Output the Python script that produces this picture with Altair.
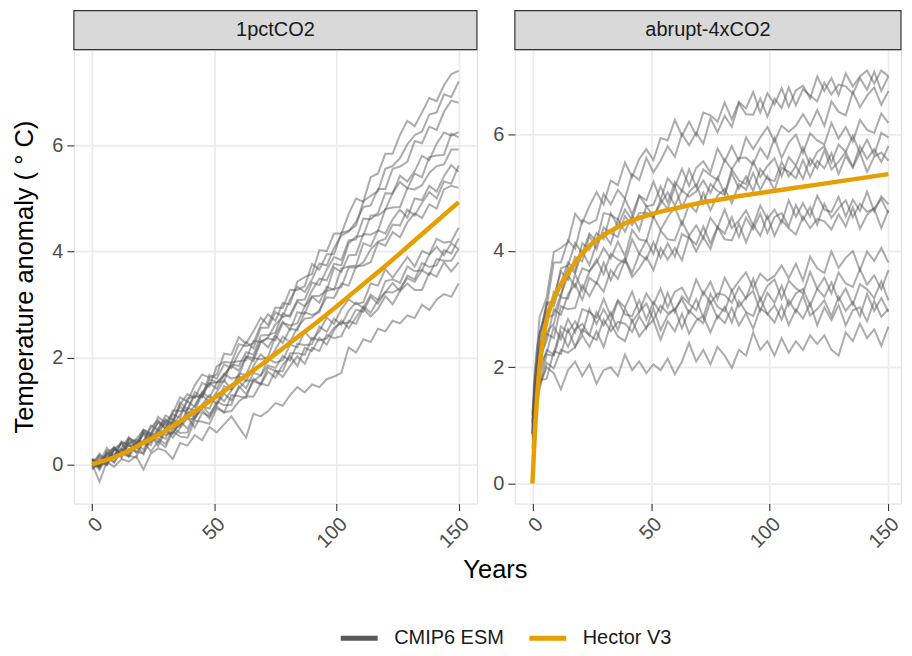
import altair as alt
import pandas as pd

FONT = "Liberation Sans"

# ---------------- data ----------------
years_1pct = list(range(0, 151, 3))               # 51 years
years_4x = [0, 1, 2] + list(range(3, 151, 3))     # 53 years

# 1pctCO2 : CMIP6 ESM temperature anomaly series
l01 = [0.0, 0.17, 0.09, 0.30, 0.19, 0.48, 0.43, 0.42, 0.73, 0.64, 0.92, 0.83, 1.13, 1.32, 1.25, 1.53, 1.46, 1.84, 1.93, 1.91, 2.26, 2.22, 2.28, 2.62, 2.82, 2.70, 3.03, 3.01, 3.44, 3.52, 3.58, 4.03, 4.01, 4.34, 4.34, 4.71, 5.00, 4.94, 5.40, 5.47, 5.84, 5.84, 6.20, 6.46, 6.36, 6.62, 6.89, 6.83, 7.13, 7.34, 7.40]
l02 = [0.08, -0.07, 0.21, 0.13, 0.43, 0.34, 0.37, 0.65, 0.57, 0.89, 0.78, 0.96, 1.26, 1.18, 1.49, 1.69, 1.63, 1.69, 2.08, 2.06, 2.39, 2.27, 2.50, 2.76, 2.62, 2.95, 2.94, 3.28, 3.28, 3.35, 3.77, 3.66, 3.95, 3.95, 4.36, 4.39, 4.49, 4.95, 5.05, 5.14, 5.56, 5.61, 5.76, 6.02, 6.19, 6.26, 6.58, 6.62, 6.96, 6.91, 7.20]
l03 = [0.05, -0.07, 0.25, 0.28, 0.20, 0.50, 0.41, 0.41, 0.69, 0.83, 0.66, 0.94, 0.87, 1.24, 1.27, 1.28, 1.68, 1.61, 1.88, 1.81, 2.09, 2.30, 2.18, 2.57, 2.57, 2.86, 2.78, 3.10, 3.34, 3.24, 3.48, 3.78, 3.74, 4.07, 4.30, 4.38, 4.56, 4.84, 4.87, 5.18, 5.18, 5.56, 5.60, 5.69, 6.08, 6.04, 6.35, 6.29, 6.63, 6.84, 6.80]
l04 = [0.10, 0.03, 0.31, 0.13, 0.31, 0.51, 0.32, 0.60, 0.52, 0.80, 0.73, 0.78, 1.16, 1.03, 1.29, 1.26, 1.60, 1.54, 1.56, 1.92, 1.94, 1.96, 2.32, 2.30, 2.39, 2.63, 2.77, 2.81, 3.09, 3.10, 3.42, 3.37, 3.66, 3.90, 3.84, 4.21, 4.23, 4.62, 4.61, 4.73, 5.10, 5.09, 5.43, 5.32, 5.51, 5.80, 5.72, 6.03, 6.24, 6.18, 6.25]
l05 = [0.10, -0.03, 0.19, 0.33, 0.13, 0.45, 0.37, 0.59, 0.44, 0.68, 0.85, 0.72, 0.94, 1.18, 1.08, 1.35, 1.52, 1.54, 1.66, 1.88, 1.85, 2.11, 2.06, 2.42, 2.43, 2.48, 2.84, 2.77, 3.06, 2.97, 3.27, 3.49, 3.46, 3.77, 3.74, 4.16, 4.28, 4.30, 4.68, 4.68, 4.78, 5.11, 5.31, 5.19, 5.47, 5.40, 5.78, 5.81, 5.82, 6.22, 6.15]
l06 = [0.10, -0.05, 0.14, 0.30, 0.14, 0.41, 0.33, 0.62, 0.53, 0.55, 0.82, 0.78, 1.09, 0.94, 1.10, 1.36, 1.25, 1.53, 1.70, 1.61, 1.65, 2.03, 2.00, 2.33, 2.20, 2.43, 2.68, 2.53, 2.86, 2.83, 3.16, 3.17, 3.27, 3.70, 3.62, 3.93, 3.94, 4.33, 4.32, 4.39, 4.80, 4.83, 4.84, 5.19, 5.17, 5.25, 5.48, 5.61, 5.64, 5.92, 5.92]
l07 = [0.00, 0.20, 0.06, 0.28, 0.41, 0.39, 0.47, 0.65, 0.57, 0.78, 0.68, 1.01, 1.00, 1.02, 1.36, 1.27, 1.53, 1.42, 1.69, 1.85, 1.76, 2.02, 1.94, 2.30, 2.37, 2.33, 2.66, 2.61, 2.65, 2.97, 3.15, 3.04, 3.34, 3.28, 3.68, 3.72, 3.74, 4.16, 4.10, 4.40, 4.34, 4.61, 4.79, 4.64, 5.00, 4.97, 5.24, 5.13, 5.42, 5.63, 5.50]
l08 = [-0.05, -0.03, 0.23, 0.15, 0.41, 0.23, 0.35, 0.56, 0.41, 0.64, 0.78, 0.68, 0.71, 1.06, 1.01, 1.31, 1.16, 1.36, 1.58, 1.41, 1.71, 1.68, 2.00, 1.97, 2.02, 2.41, 2.28, 2.55, 2.52, 2.86, 2.81, 2.86, 3.26, 3.30, 3.33, 3.70, 3.70, 3.80, 4.04, 4.19, 4.24, 4.51, 4.49, 4.79, 4.68, 4.92, 5.12, 5.00, 5.32, 5.28, 5.62]
l09 = [0.08, 0.01, 0.00, 0.26, 0.39, 0.20, 0.41, 0.27, 0.58, 0.54, 0.48, 0.85, 0.74, 0.99, 0.88, 1.13, 1.30, 1.12, 1.47, 1.41, 1.66, 1.56, 1.85, 2.07, 1.94, 2.16, 2.40, 2.30, 2.57, 2.74, 2.76, 2.90, 3.14, 3.13, 3.40, 3.36, 3.72, 3.74, 3.80, 4.17, 4.11, 4.37, 4.27, 4.55, 4.72, 4.63, 4.89, 4.81, 5.17, 5.24, 5.20]
l10 = [-0.10, 0.11, 0.02, 0.30, 0.19, 0.15, 0.46, 0.42, 0.36, 0.64, 0.55, 0.59, 0.78, 0.86, 0.85, 1.09, 1.05, 1.32, 1.18, 1.39, 1.56, 1.43, 1.72, 1.67, 1.98, 1.91, 1.96, 2.25, 2.20, 2.49, 2.34, 2.50, 2.76, 2.64, 2.92, 3.10, 3.01, 3.05, 3.40, 3.36, 3.67, 3.51, 3.70, 3.90, 3.72, 4.01, 3.95, 4.24, 4.17, 4.19, 4.45]
l11 = [0.05, 0.05, -0.01, 0.31, 0.17, 0.37, 0.22, 0.43, 0.55, 0.34, 0.64, 0.57, 0.81, 0.67, 0.93, 1.11, 0.94, 1.13, 1.33, 1.20, 1.43, 1.58, 1.57, 1.67, 1.86, 1.81, 2.04, 1.95, 2.27, 2.24, 2.26, 2.59, 2.49, 2.74, 2.62, 2.89, 3.04, 2.94, 3.19, 3.09, 3.44, 3.48, 3.41, 3.72, 3.63, 3.65, 3.94, 4.09, 3.93, 4.16, 4.05]
l12 = [-0.08, 0.00, 0.20, 0.04, 0.26, 0.38, 0.23, 0.21, 0.52, 0.42, 0.67, 0.50, 0.68, 0.88, 0.69, 0.97, 0.90, 1.18, 1.11, 1.12, 1.47, 1.32, 1.56, 1.51, 1.82, 1.75, 1.75, 2.09, 2.09, 2.06, 2.38, 2.33, 2.37, 2.57, 2.66, 2.66, 2.91, 2.87, 3.15, 3.02, 3.24, 3.41, 3.26, 3.55, 3.48, 3.79, 3.71, 3.74, 4.03, 3.96, 4.25]
l13 = [-0.05, 0.15, -0.02, 0.19, 0.29, 0.14, 0.34, 0.19, 0.48, 0.48, 0.38, 0.68, 0.59, 0.60, 0.88, 1.03, 0.86, 1.09, 0.97, 1.30, 1.28, 1.25, 1.61, 1.50, 1.74, 1.63, 1.87, 2.03, 1.85, 2.19, 2.13, 2.38, 2.25, 2.52, 2.71, 2.56, 2.76, 2.97, 2.85, 3.09, 3.24, 3.23, 3.31, 3.50, 3.43, 3.65, 3.56, 3.86, 3.83, 3.83, 4.05]
l14 = [0.08, -0.11, 0.13, 0.03, 0.27, 0.16, 0.13, 0.44, 0.24, 0.43, 0.32, 0.62, 0.52, 0.50, 0.82, 0.80, 0.76, 1.05, 0.98, 1.00, 1.18, 1.28, 1.27, 1.52, 1.48, 1.76, 1.64, 1.85, 2.03, 1.89, 2.19, 2.13, 2.44, 2.37, 2.41, 2.70, 2.64, 2.93, 2.78, 2.92, 3.16, 3.01, 3.26, 3.40, 3.28, 3.28, 3.60, 3.53, 3.80, 3.63, 3.80]
l15 = [0.0, -0.33, 0.05, -0.05, 0.10, 0.05, 0.15, -0.10, 0.20, 0.30, 0.25, 0.10, 0.40, 0.35, 0.55, 0.45, 0.70, 0.60, 0.75, 0.90, 0.70, 0.50, 0.95, 0.90, 1.00, 1.15, 1.10, 1.30, 1.45, 1.35, 1.50, 1.45, 1.60, 1.65, 1.72, 2.20, 2.10, 2.35, 2.30, 2.55, 2.50, 2.70, 2.65, 2.80, 2.75, 3.00, 2.90, 3.10, 3.20, 3.15, 3.40]

# abrupt-4xCO2 : CMIP6 ESM temperature anomaly series
r01 = [1.20, 1.97, 2.35, 2.86, 3.20, 3.98, 4.05, 4.15, 4.64, 4.48, 4.77, 5.01, 4.80, 5.21, 5.13, 5.52, 5.27, 5.58, 5.75, 5.56, 5.94, 5.90, 6.25, 5.98, 6.22, 5.99, 6.38, 6.33, 6.22, 6.55, 6.26, 6.56, 6.45, 6.73, 6.38, 6.71, 6.52, 6.80, 6.48, 6.76, 6.84, 6.62, 7.00, 6.75, 6.97, 6.68, 7.05, 6.83, 7.00, 7.10, 6.88, 7.10, 7.00]
r02 = [1.17, 1.70, 2.35, 2.57, 3.05, 3.80, 3.80, 4.18, 4.04, 4.53, 4.47, 4.54, 4.98, 4.80, 5.05, 4.90, 5.32, 5.22, 5.60, 5.35, 5.55, 5.80, 5.62, 6.01, 5.82, 6.03, 5.84, 6.28, 6.04, 6.32, 6.13, 6.54, 6.35, 6.34, 6.62, 6.31, 6.62, 6.46, 6.81, 6.50, 6.78, 6.67, 6.57, 6.89, 6.69, 6.86, 6.83, 6.70, 6.97, 6.77, 7.08, 6.75, 7.00]
r03 = [0.96, 1.80, 2.13, 2.53, 3.12, 3.12, 3.70, 3.75, 4.14, 3.96, 4.30, 4.16, 4.65, 4.62, 4.54, 4.89, 4.63, 4.95, 4.87, 5.19, 4.88, 5.25, 5.10, 5.41, 5.12, 5.43, 5.54, 5.35, 5.76, 5.54, 5.80, 5.54, 5.95, 5.75, 5.95, 6.13, 5.88, 6.15, 6.05, 6.15, 6.35, 6.15, 6.42, 6.15, 6.57, 6.39, 6.33, 6.73, 6.47, 6.67, 6.81, 6.51, 6.75]
r04 = [1.02, 1.50, 2.16, 2.36, 3.10, 3.05, 3.45, 3.80, 3.66, 4.13, 4.02, 4.31, 4.20, 4.65, 4.42, 4.71, 4.53, 4.95, 4.77, 4.79, 5.11, 4.83, 5.18, 5.03, 5.40, 5.10, 5.40, 5.30, 5.22, 5.57, 5.40, 5.60, 5.60, 5.49, 5.77, 5.59, 5.94, 5.60, 5.86, 6.00, 5.68, 6.02, 5.90, 5.83, 6.20, 5.93, 6.13, 5.88, 6.25, 6.08, 6.03, 6.36, 6.20]
r05 = [0.85, 1.69, 1.93, 2.35, 2.75, 3.30, 3.22, 3.72, 3.62, 3.99, 3.76, 4.13, 4.30, 4.12, 4.54, 4.33, 4.60, 4.35, 4.77, 4.59, 4.81, 5.01, 4.78, 5.04, 4.93, 5.02, 5.21, 5.00, 5.26, 4.98, 5.40, 5.21, 5.15, 5.54, 5.27, 5.46, 5.59, 5.28, 5.61, 5.47, 5.78, 5.47, 5.70, 5.80, 5.52, 5.83, 5.70, 5.98, 5.68, 5.91, 5.65, 6.03, 5.95]
r06 = [1.04, 1.75, 2.13, 2.60, 2.95, 3.20, 3.65, 3.50, 3.90, 3.82, 4.26, 4.03, 4.40, 4.31, 4.24, 4.60, 4.44, 4.65, 4.66, 4.57, 4.88, 4.72, 5.10, 4.75, 5.01, 5.14, 4.82, 5.15, 5.03, 4.96, 5.34, 5.07, 5.28, 5.03, 5.41, 5.24, 5.20, 5.53, 5.28, 5.46, 5.24, 5.59, 5.42, 5.73, 5.40, 5.53, 5.70, 5.45, 5.80, 5.58, 5.75, 5.53, 5.80]
r07 = [1.10, 1.56, 2.06, 2.20, 2.85, 2.90, 3.25, 3.58, 3.38, 3.70, 3.65, 3.80, 4.05, 3.87, 4.16, 3.91, 4.36, 4.20, 4.17, 4.59, 4.36, 4.58, 4.75, 4.45, 4.80, 4.67, 5.00, 4.70, 4.95, 5.07, 4.82, 5.15, 5.05, 5.34, 5.05, 5.29, 5.04, 5.43, 5.36, 5.25, 5.56, 5.27, 5.55, 5.42, 5.68, 5.32, 5.63, 5.43, 5.69, 5.36, 5.62, 5.69, 5.55]
r08 = [0.81, 1.56, 1.85, 2.23, 2.60, 2.75, 3.20, 3.18, 3.60, 3.32, 3.65, 3.85, 3.60, 3.95, 3.85, 3.80, 4.20, 3.95, 4.18, 3.95, 4.35, 4.20, 4.18, 4.51, 4.26, 4.44, 4.22, 4.57, 4.40, 4.71, 4.39, 4.52, 4.70, 4.44, 4.78, 4.55, 4.71, 4.48, 4.87, 4.59, 4.82, 4.59, 4.95, 4.71, 4.67, 4.93, 4.59, 4.88, 4.69, 5.02, 4.68, 4.94, 4.80]
r09 = [1.06, 1.40, 1.99, 2.17, 2.45, 3.00, 2.90, 3.25, 3.43, 3.16, 3.54, 3.44, 3.80, 3.50, 3.75, 3.87, 3.62, 3.95, 3.85, 4.15, 3.88, 4.13, 3.90, 4.29, 4.22, 4.11, 4.42, 4.13, 4.41, 4.30, 4.58, 4.24, 4.57, 4.37, 4.64, 4.31, 4.58, 4.65, 4.42, 4.79, 4.53, 4.75, 4.45, 4.81, 4.57, 4.73, 4.87, 4.58, 4.81, 4.67, 4.73, 4.89, 4.65]
r10 = [0.87, 1.32, 1.90, 2.05, 2.58, 2.50, 3.05, 3.00, 3.02, 3.41, 3.22, 3.46, 3.30, 3.67, 3.52, 3.85, 3.55, 3.70, 3.90, 3.67, 4.05, 3.85, 4.05, 3.84, 4.25, 3.99, 4.24, 4.03, 4.41, 4.20, 4.18, 4.47, 4.15, 4.45, 4.26, 4.60, 4.26, 4.53, 4.39, 4.28, 4.59, 4.39, 4.55, 4.51, 4.37, 4.63, 4.42, 4.75, 4.38, 4.62, 4.73, 4.39, 4.70]
r11 = [0.93, 1.46, 1.71, 2.05, 2.25, 2.70, 2.48, 2.83, 2.60, 3.00, 2.95, 2.85, 3.18, 2.88, 3.15, 3.03, 3.30, 2.95, 3.27, 3.08, 3.35, 3.03, 3.30, 3.37, 3.14, 3.51, 3.25, 3.47, 3.17, 3.54, 3.31, 3.48, 3.63, 3.36, 3.61, 3.49, 3.57, 3.75, 3.53, 3.78, 3.49, 3.90, 3.70, 3.62, 3.99, 3.71, 3.88, 4.00, 3.67, 3.99, 3.83, 4.05, 3.80]
r12 = [0.86, 1.40, 1.63, 1.87, 2.30, 2.22, 2.70, 2.60, 2.79, 2.58, 3.00, 2.74, 3.00, 2.77, 3.14, 2.91, 2.88, 3.15, 2.82, 3.12, 2.94, 3.28, 2.95, 3.22, 3.09, 2.98, 3.30, 3.10, 3.27, 3.24, 3.11, 3.38, 3.18, 3.52, 3.15, 3.40, 3.51, 3.18, 3.49, 3.36, 3.27, 3.64, 3.35, 3.54, 3.27, 3.63, 3.44, 3.38, 3.69, 3.42, 3.58, 3.34, 3.67]
r13 = [0.85, 1.27, 1.70, 1.71, 2.22, 2.20, 2.60, 2.35, 2.65, 2.75, 2.55, 2.95, 2.72, 2.94, 2.64, 3.01, 2.78, 2.95, 3.10, 2.82, 3.06, 2.93, 3.00, 3.17, 2.93, 3.17, 2.86, 3.26, 3.04, 2.96, 3.32, 3.04, 3.20, 3.31, 2.97, 3.28, 3.11, 3.40, 3.06, 3.27, 3.35, 3.06, 3.35, 3.21, 3.46, 3.15, 3.35, 3.08, 3.43, 3.34, 3.19, 3.48, 3.15]
r14 = [0.90, 1.17, 1.45, 1.78, 1.80, 2.28, 2.23, 2.65, 2.35, 2.65, 2.55, 2.47, 2.82, 2.62, 2.78, 2.75, 2.61, 2.88, 2.67, 3.01, 2.64, 2.89, 3.00, 2.67, 2.98, 2.85, 2.76, 3.13, 2.84, 3.04, 2.77, 3.14, 2.95, 2.88, 3.19, 2.91, 3.07, 2.82, 3.15, 2.95, 3.24, 2.89, 3.00, 3.15, 2.88, 3.21, 2.97, 3.12, 2.88, 3.26, 2.97, 3.19, 2.95]
r15 = [0.60, 1.18, 1.35, 1.63, 2.08, 1.98, 2.30, 2.25, 2.35, 2.55, 2.35, 2.62, 2.35, 2.75, 2.53, 2.45, 2.81, 2.53, 2.69, 2.81, 2.47, 2.79, 2.62, 2.92, 2.58, 2.80, 2.88, 2.60, 2.89, 2.76, 3.02, 2.72, 2.93, 2.66, 3.01, 2.92, 2.77, 3.06, 2.73, 2.99, 2.84, 3.10, 2.72, 3.03, 2.81, 3.07, 2.72, 2.98, 3.03, 2.79, 3.14, 2.87, 3.00]
r16 = [0.75, 1.15, 1.45, 1.70, 2.00, 1.90, 1.62, 1.95, 2.10, 1.85, 2.05, 1.72, 1.95, 2.00, 1.85, 2.22, 1.95, 2.10, 1.90, 2.05, 1.95, 2.15, 1.88, 2.10, 2.42, 2.10, 2.30, 2.05, 2.35, 2.20, 1.99, 2.30, 2.20, 2.60, 2.30, 2.45, 2.20, 2.50, 2.25, 2.45, 2.30, 2.55, 2.40, 2.55, 2.30, 2.20, 2.60, 2.45, 2.75, 2.50, 2.65, 2.37, 2.70]

esm_1pct = [l01, l02, l03, l04, l05, l06, l07, l08, l09, l10, l11, l12, l13, l14, l15]
esm_4x = [r01, r02, r03, r04, r05, r06, r07, r08, r09, r10, r11, r12, r13, r14, r15, r16]

# Hector V3
hector_1pct_years = list(range(0, 151, 10))
hector_1pct = [0.0, 0.15, 0.38, 0.63, 0.93, 1.25, 1.57, 1.90, 2.25, 2.60, 2.97, 3.35, 3.73, 4.13, 4.53, 4.93]
hector_4x_years = [0, 1, 2, 3, 4, 5, 6, 7, 8, 10, 12, 15, 18, 21, 25, 30, 35, 40, 50, 60, 70, 80, 90, 100, 110, 120, 130, 140, 150]
hector_4x = [0.0, 0.85, 1.50, 2.00, 2.35, 2.60, 2.80, 2.96, 3.08, 3.27, 3.42, 3.62, 3.80, 3.95, 4.12, 4.27, 4.39, 4.49, 4.63, 4.73, 4.82, 4.89, 4.96, 5.02, 5.08, 5.14, 5.20, 5.26, 5.32]

sources = ["CMIP6 ESM", "Hector V3"]
colors = ["#595959", "#E69F00"]
x_ticks = [0, 50, 100, 150]
y_ticks = [0, 2, 4, 6]


def esm_frame(years, series):
    rows = []
    for k, vals in enumerate(series):
        for yr, v in zip(years, vals):
            rows.append({"year": yr, "value": v, "model": "esm%02d" % k, "source": sources[0]})
    return pd.DataFrame(rows)


def hector_frame(years, vals):
    return pd.DataFrame({"year": years, "value": vals, "model": "hector", "source": sources[1]})


color_scale = alt.Scale(domain=sources, range=colors)

axis_common = dict(
    labelFont=FONT, labelFontSize=20, labelColor="#4D4D4D",
    tickColor="#333333", tickWidth=1.1, tickSize=7,
    domain=False, grid=True, gridColor="#EBEBEB", gridWidth=1.7,
    labelOverlap=False, labelFlush=False,
    titleFont=FONT, titleFontSize=25.5, titleFontWeight="normal", titleColor="#000000",
)

legend_left = alt.Legend(
    title=None, orient="none", legendX=276, legendY=580, direction="horizontal",
    symbolType="M-3,0H3", symbolSize=152, symbolStrokeWidth=5, symbolOpacity=1,
    labelFont=FONT, labelFontSize=20, labelColor="#1A1A1A", labelOffset=25,
    columnPadding=14, padding=0,
)

H = 455


def make_panel(label, esm_df, hec_df, width, xdomain, ydomain, left):
    if left:
        xaxis = alt.Axis(values=x_ticks, labelAngle=315, labelAlign="right", labelBaseline="top",
                         labelPadding=3, title="Years", titleX=422, titleY=74.5,
                         titleAlign="center", titleBaseline="alphabetic", **axis_common)
        yaxis = alt.Axis(values=y_ticks, format="d", labelPadding=4,
                         title="Temperature anomaly ( ° C)", titlePadding=14.5, **axis_common)
        legend = legend_left
    else:
        xaxis = alt.Axis(values=x_ticks, labelAngle=315, labelAlign="right", labelBaseline="top",
                         labelPadding=3, title=None, **axis_common)
        yaxis = alt.Axis(values=y_ticks, format="d", labelPadding=4, title=None, **axis_common)
        legend = None

    xs = alt.Scale(domain=xdomain, nice=False, zero=False)
    ys = alt.Scale(domain=ydomain, nice=False, zero=False)

    gray = alt.Chart(esm_df).mark_line(strokeWidth=2, opacity=0.5).encode(
        x=alt.X("year:Q", scale=xs, axis=xaxis),
        y=alt.Y("value:Q", scale=ys, axis=yaxis),
        detail="model:N",
        color=alt.Color("source:N", scale=color_scale, legend=legend),
    )
    orange = alt.Chart(hec_df).mark_line(strokeWidth=4.5, interpolate="monotone").encode(
        x=alt.X("year:Q", scale=xs),
        y=alt.Y("value:Q", scale=ys),
        color=alt.Color("source:N", scale=color_scale, legend=legend),
    )
    strip_df = pd.DataFrame({"label": [label]})
    strip = alt.Chart(strip_df).mark_rect(fill="#D9D9D9", stroke="#333333", strokeWidth=1.2).encode(
        x=alt.value(0), x2=alt.value(width), y=alt.value(-39), y2=alt.value(0)
    )
    strip_text = alt.Chart(strip_df).mark_text(
        font=FONT, fontSize=20, color="#1A1A1A", baseline="middle", align="center"
    ).encode(x=alt.value(width / 2), y=alt.value(-19.5), text="label:N")
    return alt.layer(gray, orange, strip, strip_text).properties(width=width, height=H)


left = make_panel("1pctCO2", esm_frame(years_1pct, esm_1pct), hector_frame(hector_1pct_years, hector_1pct),
                  404, [-7.5, 157.5], [-0.74, 7.8], True)
right = make_panel("abrupt-4xCO2", esm_frame(years_4x, esm_4x), hector_frame(hector_4x_years, hector_4x),
                   387, [-7.4, 155.3], [-0.343, 7.46], False)

chart = (
    alt.hconcat(left, right, spacing=38, bounds="flush")
    .resolve_legend(color="independent")
    .properties(padding={"left": 3, "top": 0, "right": 0, "bottom": 0})
    .configure_view(stroke="#333333", strokeWidth=1.2)
    .configure(font=FONT)
)

chart.save("out.html", embed_options={"renderer": "svg", "actions": False})
